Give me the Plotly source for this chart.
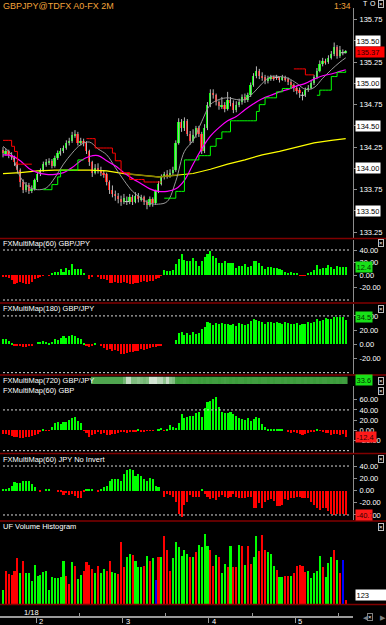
import plotly.graph_objects as go

# ---------------- data ----------------
bars = list(range(120))

opens = [134.22,134.18,134.20,134.16,134.13,134.07,133.98,133.84,133.75,133.81,
         133.73,133.76,133.86,133.93,133.98,134.05,134.07,134.09,134.03,134.12,
         134.18,134.20,134.24,134.30,134.32,134.39,134.41,134.30,134.32,134.30,
         134.20,134.07,133.95,134.01,133.98,133.95,133.93,133.84,133.75,133.70,
         133.67,133.64,133.61,133.61,133.61,133.66,133.61,133.68,133.64,133.66,
         133.61,133.57,133.64,133.59,133.73,133.82,133.90,133.93,133.91,133.95,
         133.98,134.30,134.55,134.47,134.56,134.41,134.32,134.39,134.47,134.41,
         134.20,134.47,134.75,134.89,134.86,134.78,134.73,134.75,134.70,134.81,
         134.77,134.69,134.75,134.78,134.84,134.81,134.86,134.98,135.09,135.14,
         135.09,135.07,135.03,135.06,135.07,135.07,135.07,135.05,135.07,135.05,
         135.02,134.98,134.94,134.92,134.86,134.86,134.92,134.95,135.00,135.07,
         135.15,135.23,135.26,135.25,135.30,135.34,135.43,135.32,135.36,135.36]
closes = [134.18,134.20,134.16,134.13,134.07,133.98,133.84,133.75,133.81,133.73,
          133.76,133.86,133.93,133.98,134.05,134.07,134.09,134.03,134.12,134.18,
          134.20,134.24,134.30,134.32,134.39,134.41,134.30,134.32,134.30,134.20,
          134.07,133.95,134.01,133.98,133.95,133.93,133.84,133.75,133.70,133.67,
          133.64,133.61,133.65,133.61,133.66,133.61,133.68,133.64,133.66,133.61,
          133.57,133.64,133.59,133.73,133.82,133.90,133.93,133.91,133.95,133.98,
          134.30,134.55,134.47,134.56,134.41,134.32,134.39,134.47,134.41,134.20,
          134.47,134.75,134.89,134.86,134.78,134.73,134.75,134.70,134.81,134.77,
          134.69,134.75,134.78,134.84,134.81,134.86,134.98,135.09,135.14,135.09,
          135.07,135.03,135.06,135.07,135.06,135.07,135.05,135.07,135.05,135.02,
          134.98,134.94,134.92,134.89,134.86,134.92,134.95,135.00,135.07,135.15,
          135.23,135.26,135.25,135.30,135.34,135.43,135.32,135.39,135.36,135.37]
highs = [134.25,134.23,134.22,134.19,134.15,134.09,134.00,133.87,133.84,133.83,
         133.80,133.88,133.95,134.00,134.08,134.11,134.12,134.11,134.15,134.21,
         134.24,134.27,134.33,134.36,134.43,134.45,134.43,134.36,134.35,134.32,
         134.22,134.09,134.05,134.06,134.02,133.98,133.95,133.86,133.80,133.74,
         133.71,133.68,133.70,133.67,133.70,133.69,133.72,133.71,133.69,133.68,
         133.63,133.67,133.66,133.75,133.85,133.93,133.96,133.98,133.99,134.02,
         134.33,134.59,134.58,134.60,134.58,134.44,134.46,134.50,134.50,134.43,
         134.52,134.78,134.93,134.93,134.88,134.80,134.84,134.78,134.90,134.84,
         134.80,134.79,134.82,134.87,134.88,134.89,135.01,135.12,135.20,135.17,
         135.13,135.10,135.09,135.10,135.09,135.10,135.08,135.10,135.09,135.07,
         135.04,135.00,134.97,134.95,134.90,134.95,134.98,135.03,135.10,135.18,
         135.27,135.30,135.29,135.33,135.38,135.48,135.45,135.44,135.40,135.39]
lows = [134.13,134.15,134.12,134.10,134.03,133.94,133.78,133.71,133.72,133.70,
        133.71,133.74,133.84,133.91,133.96,134.02,134.04,134.00,134.01,134.10,
        134.15,134.18,134.22,134.27,134.30,134.36,134.27,134.27,134.26,134.17,
        134.03,133.90,133.93,133.94,133.91,133.89,133.80,133.70,133.66,133.62,
        133.59,133.56,133.58,133.57,133.58,133.57,133.59,133.60,133.61,133.57,
        133.52,133.55,133.55,133.57,133.71,133.80,133.87,133.88,133.89,133.92,
        133.96,134.28,134.43,134.44,134.38,134.28,134.30,134.36,134.37,134.17,
        134.18,134.45,134.72,134.82,134.74,134.69,134.70,134.66,134.68,134.73,
        134.65,134.66,134.72,134.75,134.77,134.78,134.84,134.96,135.06,135.05,
        135.03,134.99,135.00,135.03,135.03,135.04,135.01,135.03,135.02,134.98,
        134.94,134.90,134.87,134.83,134.80,134.84,134.90,134.93,134.98,135.05,
        135.13,135.20,135.22,135.23,135.28,135.32,135.29,135.30,135.33,135.35]

ma_at = [0,3,6,9,12,15,18,21,24,27,30,33,36,39,42,45,48,51,54,57,60,63,66,69,72,75,78,81,84,87,
         90,93,96,99,102,105,108,111,114,117,119]
ma_fast = [134.26,134.16,133.90,133.78,133.75,133.77,133.89,134.05,134.18,134.28,
           134.31,134.23,134.16,134.01,133.86,133.73,133.65,133.59,133.58,133.61,
           133.85,134.20,134.33,134.55,134.75,134.81,134.83,134.81,134.81,134.89,
           135.00,135.08,135.08,135.06,135.00,134.93,134.95,135.06,135.16,135.25,135.30]
ma_mid = [134.16,134.15,134.09,134.00,133.95,133.93,133.93,133.95,134.01,134.09,
          134.14,134.15,134.09,134.03,133.95,133.88,133.82,133.76,133.73,133.73,
          133.76,133.86,134.05,134.23,134.38,134.48,134.56,134.61,134.69,134.76,
          134.82,134.86,134.90,134.93,134.97,135.00,135.05,135.09,135.11,135.14,135.16]
ma_slow_at = [0,6,12,18,24,30,36,42,48,54,60,66,72,78,84,90,96,102,108,114,119]
ma_slow = [133.94,133.95,133.97,133.98,133.98,133.98,133.97,133.94,133.92,133.90,
           133.92,133.94,133.99,134.05,134.10,134.16,134.20,134.25,134.30,134.33,134.35]

N = None
stop_red = [134.33,134.33,134.33,134.26,134.20,134.05,134.05,134.05,134.05,134.05,
            134.05,N,N,N,N,N,N,N,N,N,
            N,N,N,N,N,N,N,N,N,134.35,
            134.35,134.35,134.24,134.24,134.24,134.24,134.24,134.24,134.18,134.09,
            134.09,133.95,133.95,133.95,133.87,133.87,133.87,133.87,133.87,133.84,
            133.84,133.84,133.84,133.84,133.84,133.84,N,N,N,N,
            N,N,N,N,N,N,N,N,N,N,
            N,N,N,N,N,N,N,N,N,N,
            N,N,N,N,N,N,N,N,N,N,
            N,N,N,N,N,N,N,N,N,N,
            N,135.17,135.17,135.17,135.17,135.10,135.10,135.10,135.10,N,
            N,N,N,N,N,N,N,N,N,N]
stop_green = [N,N,N,N,N,N,N,N,N,N,
              N,N,N,N,133.75,133.75,133.75,133.81,133.81,133.90,
              133.98,133.98,133.98,133.98,133.98,133.98,134.10,134.10,134.10,N,
              N,N,N,N,N,N,N,N,N,N,
              N,N,N,N,N,N,N,N,N,N,
              N,N,N,N,N,N,133.65,133.65,133.65,133.65,
              133.73,133.73,133.73,134.10,134.10,134.10,134.10,134.10,134.15,134.15,
              134.15,134.15,134.26,134.26,134.35,134.35,134.43,134.43,134.43,134.56,
              134.56,134.56,134.56,134.56,134.56,134.56,134.56,134.56,134.67,134.75,
              134.75,134.83,134.83,134.83,134.83,134.90,134.90,134.94,134.94,134.94,
              134.98,N,N,N,N,N,N,N,N,134.86,
              134.92,134.92,134.92,134.92,135.08,135.08,135.13,135.13,135.13,135.15]

mm60_gbpjpy = [-2,-3,-5,-8,-14,-13,-11,-13,-14,-14,-11,-7,-4,-2,
               -1,0,-0.5,
               2,5,5,9,5,12,8,17,9,10,10,3,
               0,-7,-3,0,
               -3,-7,-6,-8,-13,-13,-11,-12,-12,-11,-12,-14,-14,-13,-12,-11,-10,-11,-10,-9,-7,-4,-1,
               8,7,7,8,
               18,26,33,24,23,22,27,23,14,23,29,33,39,31,28,19,20,23,20,19,
               19,11,15,15,17,13,14,23,23,20,15,9,13,13,12,12,10,8,5,3,
               5,4,3,-1,-1,-0.5,3,5,8,16,9,12,12,16,13,9,14,13,13,12.4]
mm180_gbpjpy = [7,7,4.5,2,-1.5,-1.5,-3,-4,-4,-3,-2,0,3.5,3.5,4.5,3,2,3.5,7,6,
                8.5,11,8.5,12,13.5,11,8.5,7,1,-1.5,-4,-2,1,0,-2,-5,-8,-6.5,-9,-8,
                -10,-13,-13,-12,-11.5,-10.5,-10,-9,-7,-8,-6.5,-5,-4,-4,-3,-1.5,0,0,0,0,
                6,16,18,13,16,13,17,14,16,22,25,31,30,27,30,28,30,28,29,27,
                29,26,30,29,27,28,33,35,34,33,32,29,31,31,30,31,30,29,31,30,
                28,29,30,27,28,29,31,30,32,35,33,34,37,35,36,39,38,38,38,34.5]
mm720_gbpjpy = [N]*0 + [None,None,None,None,None,None,None,None,None,None,
                None,None,None,None,None,None,None,None,None,None,
                None,None,None,None,None,None,None,None,None,None,
                None,30,30,30,30,30,30,30,30,30,
                30,30,22,10,10,20,20,18,20,22,
                20,5,6,5,12,12,18,10,18,20,
                33,34,33,32,33,34,33,33,34,33,
                34,33,34,33,33,34,33,32,33,34,
                33,34,33,33,34,33,34,33,33,34,
                33,33,34,33,34,33,33,34,33,34,
                33,34,33,33,34,33,34,33,34,33,
                34,33,33,34,33,34,33,34,33,33.6]
mm60_gbp = [-6.5,-6.5,-10,-12,-13,-14,-16,-15,-14,-14,
            -12,-10,-6.5,-3,1.3,-1.3,-1.3,6.5,14,16,
            13,16,16,21,25,27,19,14,-1.3,-5,
            -14,-10,-6.5,-3,-6.5,-5,-10,-10,-8,-6.5,
            -5,-3,-3,-5,-4,-3,-2.5,1.3,-2,-2,
            -1.3,-1.3,-1,0,1.3,5,-1.3,1.3,10,7,
            5,14,32,25,27,29,29,34,35,27,
            44,55,58,62,65,45,35,34,34,35,
            32,28,25,23,21,25,19,23,27,25,
            13,6.5,3,3,2,2,2,2,0,-3,
            -5,-3,-5,-7,-10,-6.5,-5,-3,-2,3,
            -1,-3,-5,-5,-10,-6.5,-6.5,-10,-8,-12.4]
mm60_jpy = [2,2,4,8,14,13,12,15,16,15,
            10,5,0,-1.5,0,2,2,0,0,-1,
            -3,-7,-4,-7,-5,-9,-12,-13,-2,1,
            2,1,0,-3,2,5,8,16,19,18,
            18,16,27,34,35,34,24,27,24,19,
            15,21,18,7,5,0,-11,-5,-7,-11,
            -18,-38,-43,-24,-19,-8,-11,-11,-11,3,
            -5,-10,-14,-13,-16,-11,-8,-11,-13,-11,
            -6,-10,-13,-12,-13,-11,-11,-28,-28,-21,
            -29,-19,-15,-14,-17,-25,-25,-23,-14,-15,
            -12,-12,-11,-11,-12,-13,-13,-18,-24,-29,
            -32,-28,-28,-33,-39,-40,-38,-39,-38,-40.7]
volume = [420,980,900,880, 980,1380,920,1280, 920,920,680,1180, 850,880,950,980,
          420,800,780,780, 820,1280,850,600, 1250,1150,750,880, 980,1250,1180,1050,
          920,1150,920,1050, 980,1300,950,920, 900,1850,1120,1400, 1500,1480,1300,1120,
          1120,1150,1450,1300, 1380,720,1400,1400,2040,1620,1000,1380,
          1850,1720,1450,1620, 1500,1400,1400,1550, 1780,1720,2100,1750,
          1620,1150,1480,1420, 920,1200,1120,1750, 1100,1100,1780,1750,
          1180,1750,1200,1420,2040,1580,2070,1620, 1550,1500,1150,1020,
          820,820,850,850, 850,920,1150,1180, 1150,950,980,780, 920,1000,1450,1100,
          820,1220,1400,1620, 1320,920,1320,123]
volume_dir = ("GRRR" "RRGR" "GGGG" "GGGG" "GGGG" "GGRR" "GRGG" "RRRR" "GRGG" "RRGG"
              "RRRG" "GRGG" "GRGR" "GBRGRRRG" "GGGG" "GRGR" "GGGG" "RRGR" "GGRG"
              "RRGR" "GRRGGRRR" "GGGR" "GGRR" "GRRR" "RRGG" "GGGR" "GGGR" "GRBR")

price_ticks = [133.25, 133.50, 133.75, 134.00, 134.25, 134.50, 134.75, 135.00, 135.25, 135.50, 135.75]
boxed_prices = [133.50, 134.00, 134.50, 135.00, 135.50]
last_price = 135.37
hour_ticks = [11.5, 41.5, 71.5, 101.5]
hour_labels = ["2", "3", "4", "5"]
half_ticks = [26.5, 56.5, 86.5, 116.5]

# ---------------- styling helpers ----------------
W, H = 386, 625
FONT = "Liberation Sans, Arial, sans-serif"
GREEN, RED, BLUE = "#00ff00", "#ff0000", "#0000ff"
AXC = "#8c8c8c"


def py(px):
    return 1 - px / H


def pxx(px):
    return px / W


fig = go.Figure()

# candles: wicks
wx, wy = [], []
for i, h, l in zip(bars, highs, lows):
    wx += [i, i, None]
    wy += [l, h, None]
fig.add_trace(go.Scatter(x=wx, y=wy, mode="lines", line=dict(color="#b8b8b8", width=1),
                         hoverinfo="skip", xaxis="x", yaxis="y"))
body_col, body_len, body_base = [], [], []
doji_x, doji_y = [], []
for i, o, c in zip(bars, opens, closes):
    body_base.append(min(o, c))
    body_len.append(abs(c - o))
    if c > o:
        body_col.append(GREEN)
    elif c < o:
        body_col.append(RED)
    else:
        body_col.append("#a0a0a0")
        doji_x.append(i)
        doji_y.append(c)
fig.add_trace(go.Bar(x=bars, y=body_len, base=body_base, width=0.62,
                     marker=dict(color=body_col, line=dict(width=0)), xaxis="x", yaxis="y"))
fig.add_trace(go.Scatter(x=doji_x, y=doji_y, mode="markers",
                         marker=dict(symbol="line-ew", size=3, line=dict(color="#c8c8c8", width=1)),
                         xaxis="x", yaxis="y"))

# moving averages & trailing stop
fig.add_trace(go.Scatter(x=ma_slow_at, y=ma_slow, mode="lines", line=dict(color="#ffff00", width=1.2),
                         xaxis="x", yaxis="y"))
fig.add_trace(go.Scatter(x=ma_slow_at[7:11], y=ma_slow[7:11], mode="lines",
                         line=dict(color="#8a8200", width=1.4), xaxis="x", yaxis="y"))
fig.add_trace(go.Scatter(x=ma_at, y=ma_fast, mode="lines", line=dict(color="#9a9a9a", width=1, shape="spline"),
                         xaxis="x", yaxis="y"))
fig.add_trace(go.Scatter(x=ma_at, y=ma_mid, mode="lines", line=dict(color="#ff00ff", width=1.2, shape="spline"),
                         xaxis="x", yaxis="y"))
fig.add_trace(go.Scatter(x=bars, y=stop_red, mode="lines", line=dict(color="#ff0000", width=1, shape="hv"),
                         connectgaps=False, xaxis="x", yaxis="y"))
fig.add_trace(go.Scatter(x=bars, y=stop_green, mode="lines", line=dict(color="#00ff00", width=1, shape="hv"),
                         connectgaps=False, xaxis="x", yaxis="y"))


def osc(vals, yax):
    cols = [GREEN if v >= 0 else RED for v in vals]
    fig.add_trace(go.Bar(x=bars, y=vals, width=0.72, marker=dict(color=cols, line=dict(width=0)),
                         xaxis="x", yaxis=yax))


osc(mm60_gbpjpy, "y2")
osc(mm180_gbpjpy, "y3")
fig.add_trace(go.Heatmap(x=bars, y=[0], z=[mm720_gbpjpy], zmin=0, zmax=34, showscale=False,
                         colorscale=[[0, "#e4eee4"], [0.3, "#c4dcc4"], [0.6, "#7cbc7c"], [1, "#3c9c3c"]],
                         xaxis="x", yaxis="y4"))
osc(mm60_gbp, "y5")
osc(mm60_jpy, "y6")
vcol = [{"G": GREEN, "R": RED, "B": BLUE}[d] for d in volume_dir]
fig.add_trace(go.Bar(x=bars, y=volume, width=0.72, marker=dict(color=vcol, line=dict(width=0)),
                     xaxis="x", yaxis="y7"))


def yax(top, bot, rng, tickvals=None, ticktext=None, line=True):
    d = dict(domain=[py(bot), py(top)], range=rng, anchor="x", side="right", showgrid=False,
             zeroline=False, showline=line, linecolor=AXC, linewidth=1, fixedrange=True,
             tickfont=dict(family=FONT, size=7.5, color="#ffffff"))
    if tickvals is None:
        d.update(showticklabels=False, ticks="")
    else:
        d.update(tickmode="array", tickvals=tickvals, ticktext=ticktext, ticks="outside",
                 ticklen=3, tickcolor=AXC, ticklabelstandoff=1)
    return d


price_text = ["" if v in boxed_prices else f"{v:.2f}" for v in price_ticks]

fig.update_layout(
    width=W, height=H, margin=dict(l=0, r=0, t=0, b=0),
    paper_bgcolor="#000000", plot_bgcolor="#000000", showlegend=False, hovermode=False,
    barmode="overlay", bargap=0,
    xaxis=dict(domain=[0, 353 / W], range=[-1.04, 121.53], anchor="free", position=py(617),
               showline=True, linecolor="#9a9a9a", linewidth=1.5, showgrid=False, zeroline=False,
               tickmode="array", tickvals=hour_ticks, showticklabels=False, ticks="outside",
               ticklen=5, tickcolor="#9a9a9a",
               minor=dict(tickvals=half_ticks, ticks="inside", ticklen=3, tickcolor="#9a9a9a"),
               fixedrange=True),
    yaxis=yax(8, 238, [133.182, 135.886], price_ticks, price_text),
    yaxis2=yax(240, 302, [-43.2, 56], [40, 20, 0, -20], ["40.00", "20.00", "0.00", "-20.00"]),
    yaxis3=yax(304, 374, [-41.9, 56.8], [40, 20, 0, -20], ["40.00", "20.00", "0.00", "-20.00"]),
    yaxis4=yax(376.5, 384, [-0.5, 0.5], line=False),
    yaxis5=yax(386, 453, [-44.6, 87], [60, 40, 20, 0, -20], ["60.00", "40.00", "20.00", "0.00", "-20.00"]),
    yaxis6=yax(455, 520, [-48.2, 58], [40, 20, 0, -20, -40], ["40.00", "20.00", "0.00", "-20.00", "-40.00"]),
    yaxis7=yax(522, 604, [0, 2460], line=False),
)

shapes = []
for ypx in [238.5, 303, 375, 453.5, 521, 604.5]:
    shapes.append(dict(type="line", xref="paper", yref="paper", x0=0, x1=1, y0=py(ypx), y1=py(ypx),
                       line=dict(color="#800000", width=1.5)))
for yref, lvl in [("y2", 40), ("y2", -40), ("y3", 40), ("y3", -40), ("y5", 40), ("y5", -40),
                  ("y6", 40), ("y6", -40)]:
    shapes.append(dict(type="line", xref="x", yref=yref, x0=0, x1=120.6, y0=lvl, y1=lvl,
                       line=dict(color="#d8d8d8", width=1, dash="2px,2px")))
fig.update_layout(shapes=shapes)

ann = []


def text(x, y, s, color="#ffffff", size=7.5, anchor="left", **kw):
    ann.append(dict(x=x, y=y, xref="paper", yref="paper", text=s, showarrow=False, xanchor=anchor,
                    yanchor="middle", font=dict(family=FONT, size=size, color=color), **kw))


text(pxx(1), py(5.5), "GBPJPY@TDFX A0-FX 2M", color="#f2a33a", size=9)
text(pxx(332), py(5.5), "1:34", color="#f2a33a", size=8.5)
text(pxx(361), py(4), "T", size=7)
text(pxx(368), py(4), "O", size=7)
for name, ypx in [("FXMultiMap(60) GBP/JPY", 243.5), ("FXMultiMap(180) GBP/JPY", 308.7),
                  ("FXMultiMap(720) GBP/JPY", 380.5), ("FXMultiMap(60) GBP", 390.5),
                  ("FXMultiMap(60) JPY No Invert", 459), ("UF Volume Histogram", 526.5)]:
    text(pxx(1), py(ypx), name)
for ypx in [4, 243.5, 308.7, 380.5, 391, 459, 526.5]:
    text(pxx(381), py(ypx), "×", size=6, anchor="center", bgcolor="#000000",
         bordercolor="#bcbcbc", borderwidth=1, borderpad=0)

for v in boxed_prices:
    ann.append(dict(x=pxx(354.5), y=v, xref="paper", yref="y", text=f"{v:.2f}", showarrow=False,
                    xanchor="left", yanchor="middle", width=23, align="left", bgcolor="#ffffff",
                    borderpad=0.5, font=dict(family=FONT, size=7.5, color="#000000")))
ann.append(dict(x=pxx(354.5), y=last_price, xref="paper", yref="y", text=f"{last_price:.2f}",
                showarrow=False, xanchor="left", yanchor="middle", width=27, align="left",
                bgcolor="#ff0000", borderpad=0.5, font=dict(family=FONT, size=7.5, color="#300000")))


def valbox(yref, yval, s, bg, fg, w):
    ann.append(dict(x=pxx(354.5), y=yval, xref="paper", yref=yref, text=s, showarrow=False,
                    xanchor="left", yanchor="middle", width=w, align="left", bgcolor=bg,
                    borderpad=0.5, font=dict(family=FONT, size=7.5, color=fg)))


valbox("y2", mm60_gbpjpy[-1], f"{mm60_gbpjpy[-1]:.1f}", "#18e018", "#003000", 15)
valbox("y3", 39, f"{mm180_gbpjpy[-1]:.1f}", "#18e018", "#003000", 15)
valbox("y4", 0, f"{mm720_gbpjpy[-1]:.1f}", "#18e018", "#003000", 15)
valbox("y5", mm60_gbp[-1], f"{mm60_gbp[-1]:.1f}", "#ff1a1a", "#300000", 19)
valbox("y6", mm60_jpy[-1], f"{mm60_jpy[-1]:.1f}", "#ff1a1a", "#300000", 15)
ann.append(dict(x=pxx(354.5), y=volume[-1], xref="paper", yref="y7", text=str(volume[-1]),
                showarrow=False, xanchor="left", yanchor="bottom", width=29, align="left",
                bgcolor="#ffffff", borderpad=0.5, yshift=-1,
                font=dict(family=FONT, size=7.5, color="#000000")))

for t, lab in zip(hour_ticks, hour_labels):
    ann.append(dict(x=t, y=py(621), xref="x", yref="paper", text=lab, showarrow=False, xanchor="left",
                    xshift=1, yanchor="middle", font=dict(family=FONT, size=7.5, color="#ffffff")))
text(pxx(22), py(612.5), "1/18")
text(pxx(361), py(617), "◀", color="#808080", size=7)
text(pxx(378), py(617), "▶", color="#808080", size=7)
text(pxx(370), py(617), "×", size=6, anchor="center", bgcolor="#000000",
     bordercolor="#808080", borderwidth=1, borderpad=0)

fig.update_layout(annotations=ann)
fig.write_html("out.html")
